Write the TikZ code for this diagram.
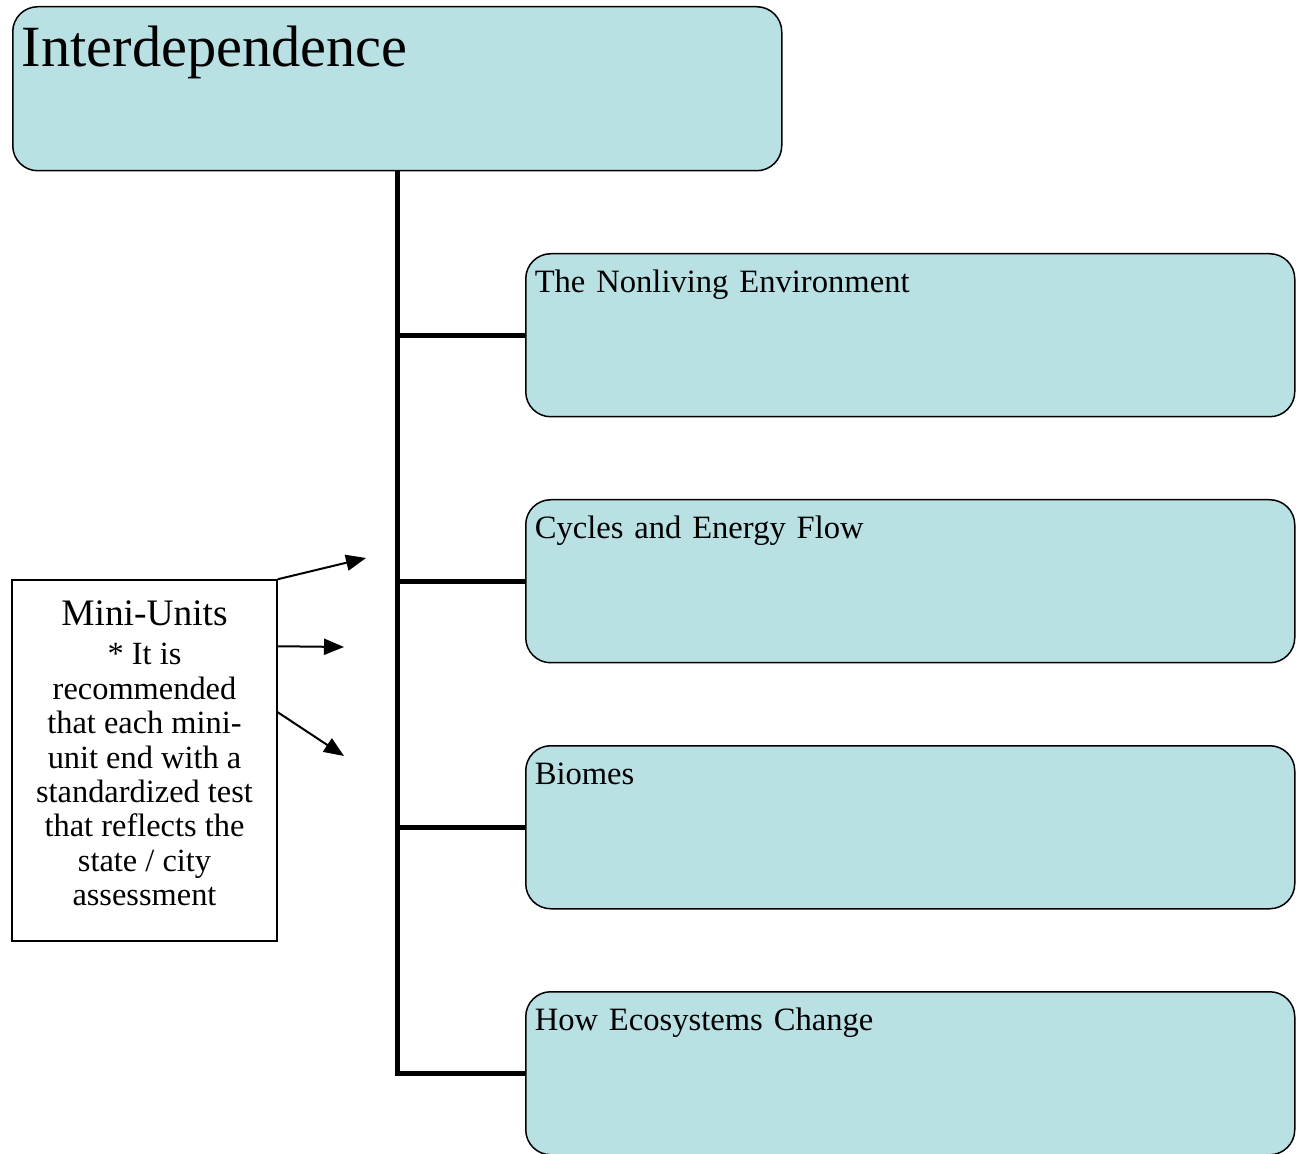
\documentclass[tikz,border=0pt]{standalone}
\usepackage{fontspec}
\setmainfont{Liberation Serif}
\usepackage{xcolor}
\usetikzlibrary{arrows.meta,positioning}
\definecolor{UnitBlue}{HTML}{B9E0E3}
\tikzset{
  topicbox/.style={draw=black,line width=0.75pt,fill=UnitBlue,rounded corners=12.5pt,anchor=north west,align=left,inner xsep=4.5pt,inner ysep=0pt,text width=375.5pt},
  titlebox/.style={topicbox,font=\fontsize{29.2}{34}\selectfont,text height=30pt,text depth=52pt},
  unitbox/.style={topicbox,font=\fontsize{16.3}{20}\selectfont,text height=19.5pt,text depth=62pt},
  notebox/.style={draw=black,line width=0.75pt,fill=white,align=center,minimum width=132.5pt,minimum height=180.5pt,inner sep=0pt,text depth=7pt,font=\fontsize{16.2}{17.2}\selectfont},
  trunkline/.style={line width=2.6pt,draw=black},
  pointer/.style={-{Triangle[length=10pt,width=8pt]},line width=1pt,draw=black}
}
\begin{document}
\begin{tikzpicture}[x=0.5pt,y=-0.5pt,node distance=40.75pt]
\useasboundingbox (0,0) rectangle (1296,1154);
% main topic and its mini-units
\node[titlebox] (top) at (12,6) {Interdependence};
\node[unitbox] (u1) at (525,253) {The Nonliving Environment};
\node[unitbox,below=of u1] (u2) {Cycles and Energy Flow};
\node[unitbox,below=of u2] (u3) {Biomes};
\node[unitbox,below=of u3] (u4) {How Ecosystems Change};
\draw[trunkline] (top.south) |- (u4.west);
\foreach \u in {u1,u2,u3}
  \draw[trunkline] (top.south |- \u.west) -- (\u.west);
% side note
\node[notebox] (mini) at (144.5,760.5) {{\fontsize{18.7}{22}\selectfont Mini-Units}\\[2.3pt]
  * It is\\ recommended\\ that each mini-\\ unit end with a\\ standardized test\\ that reflects the\\ state / city\\ assessment};
\coordinate (p1) at (366,558);
\coordinate (p2) at (344,647);
\coordinate (p3) at (344,756);
\draw[pointer] (mini.north east) -- (p1);
\draw[pointer] ([yshift=-33.5pt]mini.north east) -- (p2);
\draw[pointer] ([yshift=-66.5pt]mini.north east) -- (p3);
\end{tikzpicture}
\end{document}
